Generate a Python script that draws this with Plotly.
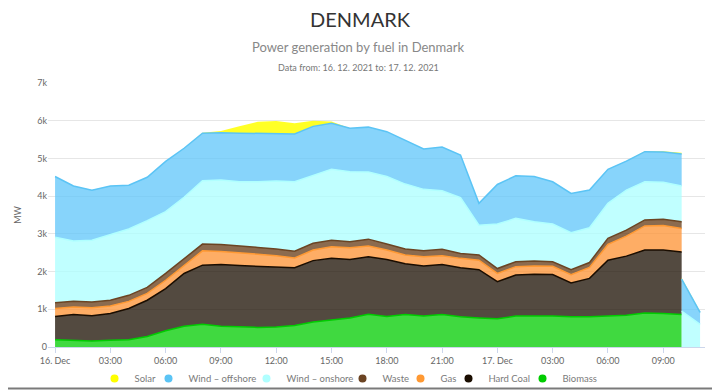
import pandas as pd
import plotly.graph_objects as go

# ---------------- data (MW, hourly, 16 Dec 2021 00:00 .. 17 Dec 2021 11:00) ----------------
times = pd.date_range("2021-12-16 00:00", periods=36, freq="h")

biomass = [195, 180, 160, 180, 195, 280, 430, 550, 600, 550, 530, 520, 530, 570, 660, 710, 770, 870,
           810, 860, 820, 860, 800, 770, 750, 820, 830, 820, 800, 800, 820, 840, 900, 890, 860, None]
hard_coal = [615, 680, 670, 710, 825, 960, 1120, 1400, 1570, 1640, 1630, 1620, 1600, 1530, 1630, 1640, 1550, 1520,
             1510, 1350, 1330, 1330, 1300, 1280, 980, 1090, 1100, 1100, 900, 1020, 1480, 1570, 1670, 1680, 1660, None]
gas = [210, 200, 210, 200, 190, 180, 220, 220, 380, 340, 340, 320, 290, 260, 280, 310, 310, 290,
       250, 230, 240, 230, 250, 250, 220, 220, 220, 220, 220, 290, 420, 530, 640, 650, 620, None]
waste = [150, 150, 150, 150, 160, 160, 180, 180, 180, 190, 170, 180, 180, 180, 180, 170, 160, 180,
         160, 160, 160, 170, 130, 140, 130, 130, 130, 120, 130, 130, 160, 160, 160, 170, 180, None]
wind_onshore = [1740, 1600, 1640, 1750, 1760, 1770, 1640, 1620, 1680, 1710, 1710, 1740, 1800, 1840, 1790, 1880, 1860, 1780,
                1790, 1720, 1630, 1550, 1480, 790, 1180, 1150, 1040, 1000, 980, 920, 930, 1060, 1010, 980, 950, 600]
wind_offshore = [1610, 1460, 1330, 1280, 1160, 1150, 1330, 1300, 1260, 1250, 1290, 1290, 1270, 1270, 1310, 1220, 1150, 1190,
                 1190, 1170, 1070, 1160, 1130, 580, 1050, 1130, 1200, 1120, 1040, 1000, 900, 770, 800, 800, 850, 320]
solar = [0, 0, 0, 0, 0, 0, 0, 0, 10, 50, 180, 300, 320, 280, 150, 50, 0, 0,
         0, 0, 0, 0, 0, 0, 0, 0, 0, 0, 0, 0, 0, 0, 10, 20, 30, 20]

x_tick_vals = pd.date_range("2021-12-16 00:00", "2021-12-17 09:00", freq="3h")
x_tick_text = ["16. Dec", "03:00", "06:00", "09:00", "12:00", "15:00", "18:00", "21:00",
               "17. Dec", "03:00", "06:00", "09:00"]
y_tick_vals = [0, 1000, 2000, 3000, 4000, 5000, 6000, 7000]
y_tick_text = ["0", "1k", "2k", "3k", "4k", "5k", "6k", "7k"]

# ---------------- styles ----------------
series = [  # bottom -> top of the stack
    ("Biomass", biomass, "#00cc00", "rgba(0,204,0,0.75)"),
    ("Hard Coal", hard_coal, "#1a0d00", "rgba(26,13,0,0.75)"),
    ("Gas", gas, "#ff9933", "rgba(253,145,50,0.75)"),
    ("Waste", waste, "#6b4423", "rgba(100,57,20,0.75)"),
    ("Wind - onshore", wind_onshore, "#b0ffff", "rgba(171,255,255,0.75)"),
    ("Wind - offshore", wind_offshore, "#5bc4f5", "rgba(95,197,250,0.75)"),
    ("Solar", solar, "#ffff00", "rgba(255,255,0,0.85)"),
]
legend_names = {"Wind - onshore": "Wind – onshore", "Wind - offshore": "Wind – offshore"}
# legend marker centres (screen px), spaced evenly around the reference legend centre
legend_px = {"Solar": 114.5, "Wind - offshore": 168.5, "Wind - onshore": 266.5, "Waste": 362.5,
             "Gas": 420.5, "Hard Coal": 468.5, "Biomass": 542.5}

# page body has an 8px default margin: figure px = screen px - OFF
OFF = 8
W, H = 720, 390
L, T = 48 - OFF, 83 - OFF
R, B = W - (705 - OFF), H - (347 - OFF)
PW, PH = W - L - R, H - T - B
FONT = "Lato, 'Open Sans', sans-serif"


def px_x(p):  # screen px -> paper x
    return (p - OFF - L) / PW


def px_y(p):  # screen px -> paper y
    return (H - B - (p - OFF)) / PH


fig = go.Figure()

n_full = sum(v is not None for v in biomass)

# main stack: every series while all values exist
for name, vals, line_c, fill_c in series:
    fig.add_trace(go.Scatter(
        x=times[:n_full], y=vals[:n_full], stackgroup="main", mode="lines",
        line=dict(color=line_c, width=0 if name == "Solar" else 1.5),
        fillcolor=fill_c, showlegend=False, name=name, hoverinfo="skip"))

# tail stack: only the series that continue after the last full hour
for name, vals, line_c, fill_c in series:
    if vals[-1] is None:
        continue
    fig.add_trace(go.Scatter(
        x=times[n_full - 1:], y=vals[n_full - 1:], stackgroup="tail", mode="lines",
        line=dict(color=line_c, width=0 if name == "Solar" else 1.5),
        fillcolor=fill_c, showlegend=False, name=name, hoverinfo="skip"))

# legend entries (circles), one small legend per entry so spacing matches
legend_layout = {}
for i, (name, vals, line_c, fill_c) in enumerate(reversed(series)):
    key = "legend" if i == 0 else f"legend{i + 1}"
    fig.add_trace(go.Scatter(
        x=[None], y=[None], mode="markers", name=legend_names.get(name, name),
        marker=dict(color=line_c, size=8), showlegend=True, legend=key))
    legend_layout[key] = dict(
        orientation="h", x=px_x(legend_px[name] - 20), xanchor="left",
        y=px_y(378.5), yanchor="middle", itemwidth=30,
        font=dict(family=FONT, size=9.5, color="#7a7a7a"),
        bgcolor="rgba(0,0,0,0)", borderwidth=0)

x0 = pd.Timestamp("2021-12-16 00:00") - pd.Timedelta(minutes=23)
x1 = pd.Timestamp("2021-12-17 11:16")

fig.update_layout(
    width=W, height=H,
    margin=dict(l=L, r=R, t=T, b=B, autoexpand=False),
    paper_bgcolor="white", plot_bgcolor="white",
    font=dict(family=FONT, color="#666666", size=9),
    title=dict(text="DENMARK", x=(360 - OFF) / W, xref="container", xanchor="center",
               y=1 - (20 - OFF) / H, yref="container", yanchor="middle",
               font=dict(family=FONT, size=20, color="#333333")),
    showlegend=True,
    xaxis=dict(type="date", range=[x0, x1], tickvals=x_tick_vals, ticktext=x_tick_text,
               showgrid=False, showline=True, linecolor="#ccd6eb", linewidth=1,
               ticks="outside", ticklen=5, tickcolor="#ccd6eb", automargin=False,
               tickfont=dict(size=9, color="#666666"), zeroline=False),
    yaxis=dict(range=[0, 7000], tickvals=y_tick_vals, ticktext=y_tick_text,
               showgrid=True, gridcolor="#e6e6e6", gridwidth=1, zeroline=False,
               showline=False, tickfont=dict(size=9, color="#666666"), automargin=False,
               title=dict(text="MW", font=dict(size=9, color="#666666"), standoff=14)),
    annotations=[
        dict(text="Power generation by fuel in Denmark", xref="paper", yref="paper",
             x=px_x(358), y=px_y(47), xanchor="center", yanchor="middle",
             showarrow=False, font=dict(family=FONT, size=13, color="#888888")),
        dict(text="Data from: 16. 12. 2021 to: 17. 12. 2021", xref="paper", yref="paper",
             x=px_x(358), y=px_y(68), xanchor="center", yanchor="middle",
             showarrow=False, font=dict(family=FONT, size=9, color="#777777")),
    ],
    shapes=[
        dict(type="line", xref="paper", yref="paper",
             x0=px_x(716.5), x1=px_x(716.5), y0=px_y(390 + OFF), y1=px_y(0),
             line=dict(color="#7a7a7a", width=2)),
        dict(type="line", xref="paper", yref="paper",
             x0=px_x(0), x1=px_x(717.5), y0=px_y(388.5), y1=px_y(388.5),
             line=dict(color="#7a7a7a", width=2)),
    ],
    **legend_layout,
)

fig.write_html("out.html")
